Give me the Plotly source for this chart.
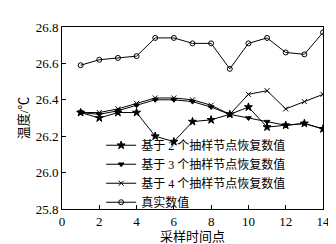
import plotly.graph_objects as go

x = list(range(1, 15))
s2 = [26.33, 26.30, 26.33, 26.33, 26.20, 26.17, 26.28, 26.29, 26.32, 26.36, 26.25, 26.26, 26.27, 26.24]
s3 = [26.33, 26.32, 26.34, 26.37, 26.40, 26.40, 26.39, 26.36, 26.32, 26.30, 26.28, 26.26, 26.27, 26.24]
s4 = [26.33, 26.33, 26.35, 26.38, 26.41, 26.41, 26.40, 26.37, 26.32, 26.43, 26.45, 26.35, 26.39, 26.43]
real = [26.59, 26.62, 26.63, 26.64, 26.74, 26.74, 26.71, 26.71, 26.57, 26.71, 26.74, 26.66, 26.65, 26.77]
names = ["基于 2 个抽样节点恢复数值", "基于 3 个抽样节点恢复数值", "基于 4 个抽样节点恢复数值", "真实数值"]
x_ticks = [0, 2, 4, 6, 8, 10, 12, 14]
y_ticks = [25.8, 26.0, 26.2, 26.4, 26.6, 26.8]

FONT = "Liberation Serif, Noto Sans CJK SC"

fig = go.Figure()
series = [(s2, "star", 6), (s3, "triangle-down", 5), (s4, "x-thin-open", 5), (real, "circle-open", 5)]
for (vals, sym, sz), nm in zip(series, names):
    fig.add_trace(go.Scatter(
        x=x, y=vals, name=nm, mode="lines+markers",
        line=dict(color="black", width=1),
        marker=dict(symbol=sym, size=sz, color="black", line=dict(color="black", width=1)),
    ))

fig.update_layout(
    width=336, height=244,
    margin=dict(l=54, r=21, t=15, b=38),
    paper_bgcolor="white", plot_bgcolor="white",
    font=dict(family=FONT, size=13, color="black"),
    showlegend=True,
    legend=dict(x=0.15, y=0.43, xanchor="left", yanchor="top",
                bgcolor="rgba(0,0,0,0)", font=dict(size=12, family=FONT),
                tracegroupgap=0, itemwidth=30),
)
fig.update_xaxes(
    range=[0, 14], tickvals=x_ticks, ticktext=[str(v) for v in x_ticks],
    ticks="inside", ticklen=4, tickcolor="black",
    showline=True, linecolor="black", linewidth=1, mirror=True,
    showgrid=False, zeroline=False,
    title=dict(text="采样时间点", standoff=2, font=dict(size=13)),
)
fig.update_yaxes(
    range=[25.8, 26.8], tickvals=y_ticks, ticktext=[f"{v:.1f}" for v in y_ticks],
    ticks="inside", ticklen=4, tickcolor="black",
    showline=True, linecolor="black", linewidth=1, mirror=True,
    showgrid=False, zeroline=False,
    title=dict(text="温度/℃", standoff=4, font=dict(size=13)),
)
fig.write_html("out.html")
